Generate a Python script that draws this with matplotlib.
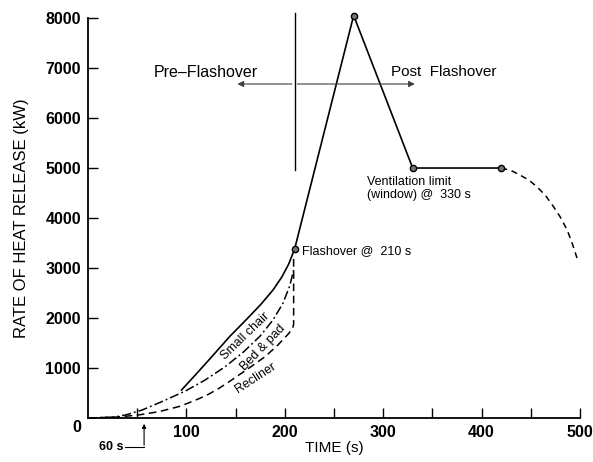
import matplotlib
matplotlib.use('Agg')
import matplotlib.pyplot as plt

plt.rcParams['font.family'] = ['Liberation Sans', 'DejaVu Sans']

# curvas antes del flashover
chair_t = [95, 110, 126, 144, 161, 176, 188, 197, 204, 210]
chair_q = [560, 880, 1230, 1630, 1970, 2280, 2560, 2820, 3080, 3380]

bed_t = [0, 27, 38, 55, 75, 99, 119, 139, 158, 175, 188, 198, 205, 209]
bed_q = [0, 20, 60, 160, 327, 540, 760, 1020, 1320, 1640, 1960, 2290, 2640, 2960]

recl_t = [0, 30, 51, 72, 92, 102, 112, 122, 132, 143, 163, 180, 193, 204, 208, 209, 209]
recl_q = [0, 20, 60, 127, 227, 300, 380, 470, 580, 720, 990, 1227, 1460, 1690, 1800, 1870, 3250]

# despues del flashover
post_t = [210, 270, 330, 420]
post_q = [3380, 8050, 5000, 5000]

decay_t = [420, 430, 439, 448, 456, 465, 473, 480, 487, 492, 497]
decay_q = [5000, 4950, 4860, 4760, 4630, 4450, 4230, 4020, 3760, 3500, 3200]

xticks = [100, 200, 300, 400, 500]
yticks = [1000, 2000, 3000, 4000, 5000, 6000, 7000, 8000]

fig = plt.figure(figsize=(5.93, 4.62), dpi=100)
ax = fig.add_axes([0.1484, 0.0952, 0.8296, 0.8658])

ax.plot(bed_t, bed_q, color='black', lw=1.1, dashes=(6, 2, 1.2, 2), clip_on=False)
ax.plot(recl_t, recl_q, color='black', lw=1.1, dashes=(5, 3), clip_on=False)
ax.plot(chair_t, chair_q, color='black', lw=1.2, clip_on=False)
ax.plot(post_t, post_q, color='black', lw=1.2, clip_on=False)
ax.plot(decay_t, decay_q, color='black', lw=1.1, dashes=(4, 3), clip_on=False)
ax.plot(post_t, post_q, 'o', ms=4.5, mfc='0.45', mec='black', mew=1, ls='none', clip_on=False)

# linea de flashover y flechas
ax.plot([210, 210], [4960, 8100], color='black', lw=1.0, clip_on=False)
ax.annotate('', xy=(149, 6680), xytext=(210, 6680),
            arrowprops=dict(arrowstyle='-|>', color='0.25', lw=0.8, mutation_scale=9))
ax.annotate('', xy=(335, 6680), xytext=(210, 6680),
            arrowprops=dict(arrowstyle='-|>', color='0.25', lw=0.8, mutation_scale=9))

ax.text(120, 6920, 'Pre\u2013Flashover', ha='center', va='center', fontsize=11.5)
ax.text(362, 6920, 'Post  Flashover', ha='center', va='center', fontsize=11)
ax.text(218, 3340, 'Flashover @  210 s', ha='left', va='center', fontsize=9)
ax.text(284, 4720, 'Ventilation limit', ha='left', va='center', fontsize=9)
ax.text(284, 4460, '(window) @  330 s', ha='left', va='center', fontsize=9)

ax.text(159.5, 1640, 'Small chair', rotation=44, ha='center', va='center', fontsize=9)
ax.text(178, 1410, 'Bed & pad', rotation=46, ha='center', va='center', fontsize=9)
ax.text(170, 810, 'Recliner', rotation=33, ha='center', va='center', fontsize=9)

# marca de 60 s
ax.annotate('', xy=(57, -60), xytext=(57, -600), annotation_clip=False,
            arrowprops=dict(arrowstyle='-|>', color='black', lw=0.8, mutation_scale=6))
ax.plot([38, 57], [-580, -580], color='black', lw=0.8, clip_on=False)
ax.text(36, -580, '60 s', ha='right', va='center', fontsize=9, fontweight='bold')

ax.set_xlim(0, 500)
ax.set_ylim(0, 8000)
ax.spines['top'].set_visible(False)
ax.spines['right'].set_visible(False)
ax.spines['left'].set_linewidth(1.3)
ax.spines['bottom'].set_linewidth(1.3)

ax.set_xticks(xticks)
ax.set_xticks([50, 150, 250, 350, 450], minor=True)
ax.set_yticks(yticks)
ax.tick_params(axis='both', direction='in', labelsize=11.5, width=1, length=7, pad=5)
ax.tick_params(axis='x', which='minor', direction='in', length=7, width=1)
for lab in ax.get_xticklabels() + ax.get_yticklabels():
    lab.set_fontweight('bold')
ax.text(-11, -190, '0', ha='center', va='center', fontsize=11.5, fontweight='bold', clip_on=False)

ax.set_xlabel('TIME (s)', fontsize=11, labelpad=1)
ax.set_ylabel('RATE OF HEAT RELEASE (kW)', fontsize=12, labelpad=12)

plt.savefig('out.png', dpi=100)
